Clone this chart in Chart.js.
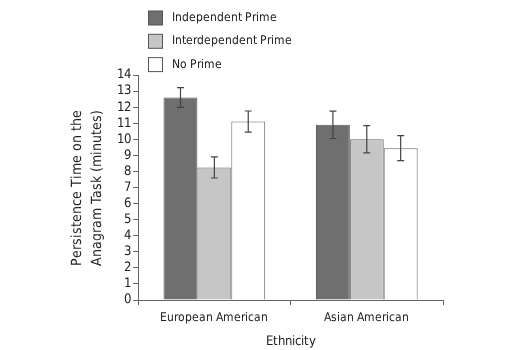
<!DOCTYPE html>
<html><head><meta charset="utf-8">
<script src="https://cdn.jsdelivr.net/npm/chart.js@4"></script>
<style>
@font-face { font-family: 'NarrowX'; src: local('Liberation Sans Narrow'), local('LiberationSansNarrow-Regular'), local('DejaVu Sans Condensed'), local('DejaVuSansCondensed'), local('DejaVuSans-Condensed'), local('Roboto Condensed'), local('RobotoCondensed-Regular'); }
html,body{margin:0;padding:0;background:#fff}#wrap{width:525px;height:350px}
</style>
</head><body><div id="wrap"><canvas id="c" width="525" height="350"></canvas></div>
<script>
const categories = ["European American", "Asian American"];
const seriesNames = ["Independent Prime", "Interdependent Prime", "No Prime"];
const independent = [12.6, 10.9];
const interdependent = [8.25, 10.0];
const noPrime = [11.1, 9.45];
const independentErr = [0.62, 0.85];
const interdependentErr = [0.66, 0.85];
const noPrimeErr = [0.66, 0.78];
const yTicks = [0,1,2,3,4,5,6,7,8,9,10,11,12,13,14];

const FONT = "NarrowX,'Liberation Sans',Arial,sans-serif";
const fills = ["#6f6f6f", "#c6c6c6", "#ffffff"];
const errs = [independentErr, interdependentErr, noPrimeErr];

const errorBars = {
  id: 'errorBars',
  afterDatasetsDraw(chart) {
    const ctx = chart.ctx, y = chart.scales.y;
    ctx.save();
    ctx.strokeStyle = '#444'; ctx.lineWidth = 1.2;
    chart.data.datasets.forEach((ds, i) => {
      const meta = chart.getDatasetMeta(i);
      meta.data.forEach((bar, j) => {
        const v = ds.data[j], e = errs[i][j];
        const x = bar.x, t = y.getPixelForValue(v + e), b = y.getPixelForValue(v - e);
        ctx.beginPath();
        ctx.moveTo(x, t); ctx.lineTo(x, b);
        ctx.moveTo(x - 3.5, t); ctx.lineTo(x + 3.5, t);
        ctx.moveTo(x - 3.5, b); ctx.lineTo(x + 3.5, b);
        ctx.stroke();
      });
    });
    ctx.restore();
  }
};

const customLegend = {
  id: 'customLegend',
  afterDraw(chart) {
    const ctx = chart.ctx;
    ctx.save();
    ctx.font = "12px " + FONT;
    ctx.textBaseline = 'middle';
    chart.data.datasets.forEach((ds, i) => {
      const yy = 18 + i * 23.3;
      ctx.fillStyle = fills[i];
      ctx.fillRect(148.5, yy - 7, 14, 14);
      ctx.strokeStyle = '#555'; ctx.lineWidth = 1;
      ctx.strokeRect(148.5, yy - 7, 14, 14);
      ctx.fillStyle = '#222';
      ctx.fillText(ds.label, 172, yy);
    });
    ctx.restore();
  }
};

function draw() {
  new Chart(document.getElementById('c'), {
    type: 'bar',
    data: {
      labels: categories,
      datasets: [
        { label: seriesNames[0], data: independent, backgroundColor: fills[0], borderColor: '#555', borderWidth: 1 },
        { label: seriesNames[1], data: interdependent, backgroundColor: fills[1], borderColor: '#666', borderWidth: 1 },
        { label: seriesNames[2], data: noPrime, backgroundColor: fills[2], borderColor: '#666', borderWidth: 1 }
      ]
    },
    options: {
      responsive: false,
      animation: false,
      datasets: { bar: { categoryPercentage: 0.667, barPercentage: 1.0 } },
      layout: { padding: { top: 75, right: 82, left: 64, bottom: 0 } },
      plugins: { legend: { display: false }, tooltip: { enabled: false } },
      scales: {
        x: {
          grid: { offset: true, drawOnChartArea: false, tickLength: 5, color: '#666' },
          border: { color: '#666' },
          ticks: { color: '#222', font: { family: FONT, size: 12, lineHeight: 1.0 }, padding: 7 },
          title: { display: true, text: 'Ethnicity', color: '#222', font: { family: FONT, size: 13, lineHeight: 1.0 }, padding: { top: 4, bottom: 2 } }
        },
        y: {
          min: 0, max: 14,
          afterBuildTicks(scale) { scale.ticks = yTicks.map(v => ({ value: v })); },
          grid: { drawOnChartArea: false, tickLength: 5, color: '#666' },
          border: { color: '#666' },
          ticks: { color: '#222', font: { family: FONT, size: 13 }, padding: 2, autoSkip: false },
          title: { display: true, text: ['Persistence Time on the', 'Anagram Task (minutes)'], color: '#222', font: { family: FONT, size: 13.5, lineHeight: 1.45 }, padding: { bottom: 8 } }
        }
      }
    },
    plugins: [errorBars, customLegend]
  });
}
document.fonts.load("13px NarrowX").then(draw, draw);
</script></body></html>
